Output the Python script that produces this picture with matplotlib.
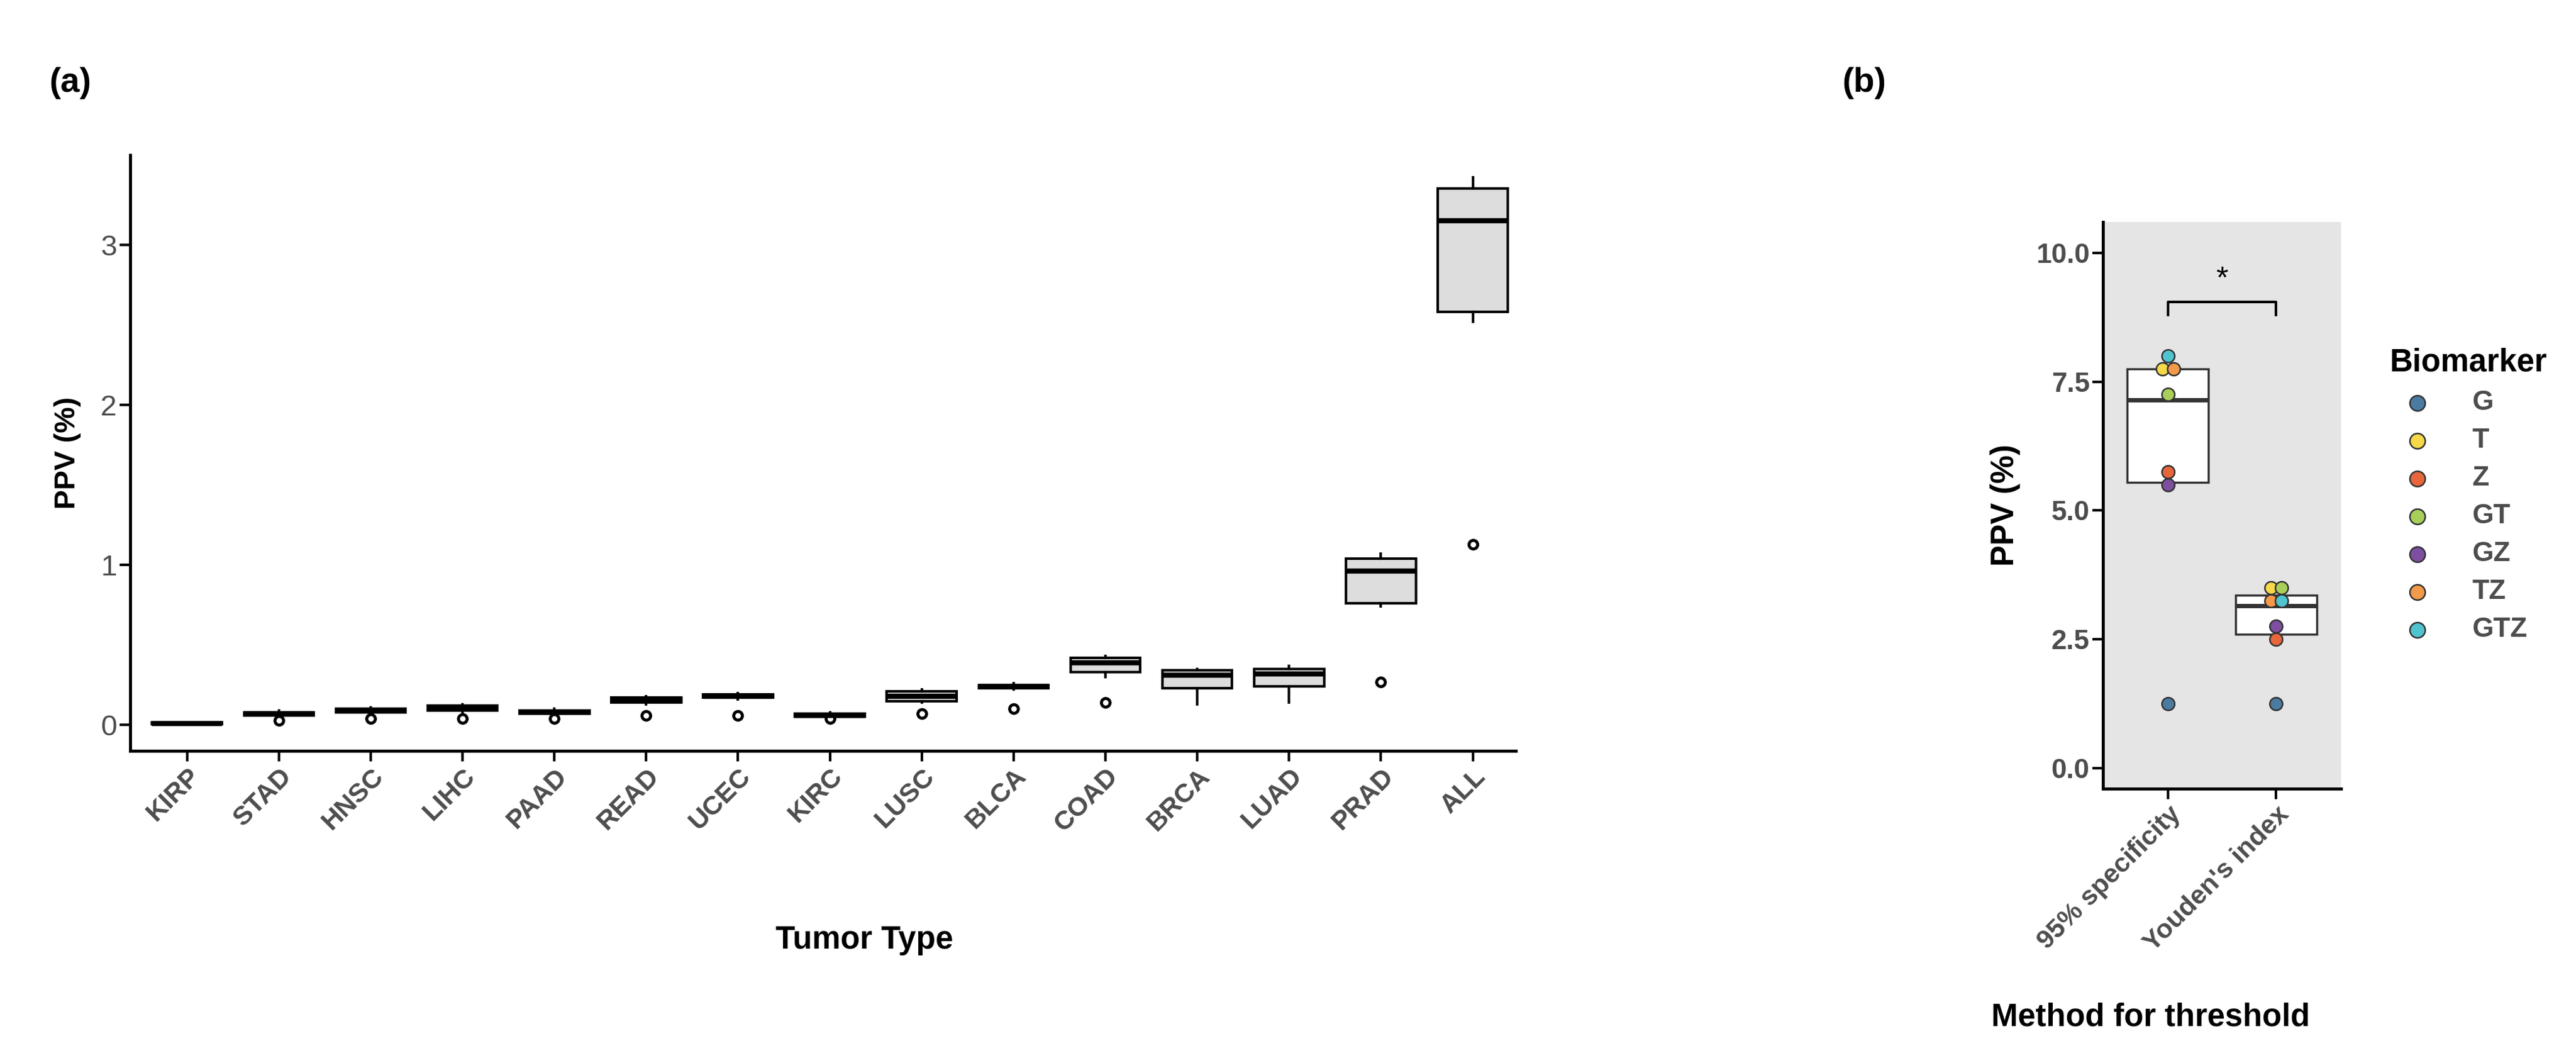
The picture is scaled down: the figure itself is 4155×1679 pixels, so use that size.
import numpy as np
import matplotlib.pyplot as plt

plt.rcParams['font.family'] = ['Liberation Sans', 'DejaVu Sans']

# panel (a): box statistics per tumor type, PPV (%)
tumors = ["KIRP", "STAD", "HNSC", "LIHC", "PAAD", "READ", "UCEC", "KIRC",
          "LUSC", "BLCA", "COAD", "BRCA", "LUAD", "PRAD", "ALL"]
q1 = [0.005, 0.06, 0.08, 0.09, 0.07, 0.14, 0.17, 0.05, 0.15, 0.23, 0.33, 0.23, 0.24, 0.76, 2.58]
med = [0.01, 0.07, 0.09, 0.10, 0.08, 0.16, 0.18, 0.06, 0.18, 0.24, 0.39, 0.31, 0.32, 0.96, 3.15]
q3 = [0.015, 0.08, 0.10, 0.12, 0.09, 0.17, 0.19, 0.07, 0.21, 0.25, 0.42, 0.34, 0.35, 1.04, 3.35]
wlo = [0.005, 0.05, 0.07, 0.08, 0.06, 0.13, 0.16, 0.05, 0.14, 0.22, 0.30, 0.13, 0.14, 0.74, 2.52]
whi = [0.015, 0.09, 0.11, 0.13, 0.10, 0.18, 0.20, 0.08, 0.22, 0.26, 0.43, 0.35, 0.37, 1.07, 3.42]
fliers = [[], [0.03], [0.04], [0.04], [0.04], [0.06], [0.06], [0.04],
          [0.07], [0.10], [0.14], [], [], [0.27], [1.13]]

# panel (b)
methods = ["95% specificity", "Youden's index"]
markers = ["G", "T", "Z", "GT", "GZ", "TZ", "GTZ"]
colors = ["#4A7BA0", "#F5D94A", "#E8663C", "#A8CF5A", "#7E4FA0", "#F2994A", "#4FC4CF"]
ppv_spec = [1.25, 7.75, 5.75, 7.25, 5.5, 7.75, 8.0]
ppv_youden = [1.25, 3.5, 2.5, 3.5, 2.75, 3.25, 3.25]
box_spec = (5.55, 7.15, 7.75)
box_youden = (2.6, 3.15, 3.35)
jit_spec = [0, -0.05, 0, 0, 0, 0.05, 0]
jit_youden = [0, -0.05, 0, 0.05, 0, -0.05, 0.05]

grey = "#4D4D4D"
fig = plt.figure(figsize=(41.55, 16.79), dpi=100)

ax = fig.add_axes([0.0505, 0.279, 0.538, 0.572])
stats = []
for i in range(len(tumors)):
    stats.append(dict(q1=q1[i], med=med[i], q3=q3[i], whislo=wlo[i],
                      whishi=whi[i], fliers=fliers[i]))
ax.bxp(stats, positions=range(1, len(tumors) + 1), widths=0.76, patch_artist=True,
       showcaps=False,
       boxprops=dict(facecolor="#DDDDDD", edgecolor="black", linewidth=3),
       medianprops=dict(color="black", linewidth=6),
       whiskerprops=dict(color="black", linewidth=3),
       flierprops=dict(marker="o", markerfacecolor="white", markeredgecolor="black",
                       markersize=10, markeredgewidth=3.5))
ax.set_xlim(0.38, 15.47)
ax.set_ylim(-0.16, 3.56)
ax.set_yticks([0, 1, 2, 3])
ax.set_xticks(range(1, len(tumors) + 1))
ax.set_xticklabels(tumors, rotation=45, ha="right", rotation_mode="anchor",
                   fontweight="bold", color=grey, fontsize=31)
ax.tick_params(axis="y", labelsize=34, labelcolor=grey, width=3, length=12)
ax.tick_params(axis="x", width=3, length=12)
for s in ["top", "right"]:
    ax.spines[s].set_visible(False)
for s in ["left", "bottom"]:
    ax.spines[s].set_linewidth(3.5)
ax.set_ylabel("PPV (%)", fontsize=34, fontweight="bold", labelpad=22)
fig.text(0.3355, 0.097, "Tumor Type", ha="center", va="center", fontsize=37, fontweight="bold")
fig.text(0.019, 0.92, "(a)", fontsize=40, fontweight="bold", va="center")

bx = fig.add_axes([0.8164, 0.2424, 0.0924, 0.5444])
bx.set_facecolor("#E5E5E5")
bstats = []
for b in [box_spec, box_youden]:
    bstats.append(dict(q1=b[0], med=b[1], q3=b[2], whislo=b[0], whishi=b[2], fliers=[]))
bx.bxp(bstats, positions=[1, 2], widths=0.75, patch_artist=True, showcaps=False,
       boxprops=dict(facecolor="white", edgecolor="#333333", linewidth=2.5),
       medianprops=dict(color="#333333", linewidth=5),
       whiskerprops=dict(linewidth=0))
for k in range(len(markers)):
    bx.scatter([1 + jit_spec[k], 2 + jit_youden[k]], [ppv_spec[k], ppv_youden[k]],
               s=220, color=colors[k], edgecolor="#333333", linewidth=1.8, zorder=3,
               label=markers[k])
bx.plot([1, 1, 2, 2], [8.8, 9.05, 9.05, 8.8], color="black", linewidth=3)
bx.text(1.5, 9.2, "*", ha="center", va="bottom", fontsize=36)
bx.set_xlim(0.4, 2.6)
bx.set_ylim(-0.4, 10.6)
bx.set_yticks([0, 2.5, 5, 7.5, 10])
bx.set_yticklabels(["0.0", "2.5", "5.0", "7.5", "10.0"])
bx.set_xticks([1, 2])
bx.set_xticklabels(methods, rotation=45, ha="right", rotation_mode="anchor",
                   fontweight="bold", color=grey, fontsize=31)
bx.tick_params(axis="y", labelsize=32, labelcolor=grey, width=3, length=12)
for lab in bx.get_yticklabels():
    lab.set_fontweight("bold")
bx.tick_params(axis="x", width=3, length=12)
for s in ["top", "right"]:
    bx.spines[s].set_visible(False)
for s in ["left", "bottom"]:
    bx.spines[s].set_linewidth(3.5)
bx.set_ylabel("PPV (%)", fontsize=37, fontweight="bold", labelpad=18)
fig.text(0.835, 0.008, "Method for threshold", ha="center", va="bottom",
         fontsize=37, fontweight="bold")
fig.text(0.715, 0.92, "(b)", fontsize=40, fontweight="bold", va="center")

leg = bx.legend(loc="upper left", bbox_to_anchor=(0.918, 0.69), bbox_transform=fig.transFigure,
                frameon=False, title="Biomarker", fontsize=32, labelspacing=0.45,
                handletextpad=1.0, markerscale=1.2,
                title_fontproperties=dict(size=37, weight="bold"))
leg._legend_box.align = "left"
for t in leg.get_texts():
    t.set_color(grey)
    t.set_fontweight("bold")

fig.savefig("out.png", dpi=100)
